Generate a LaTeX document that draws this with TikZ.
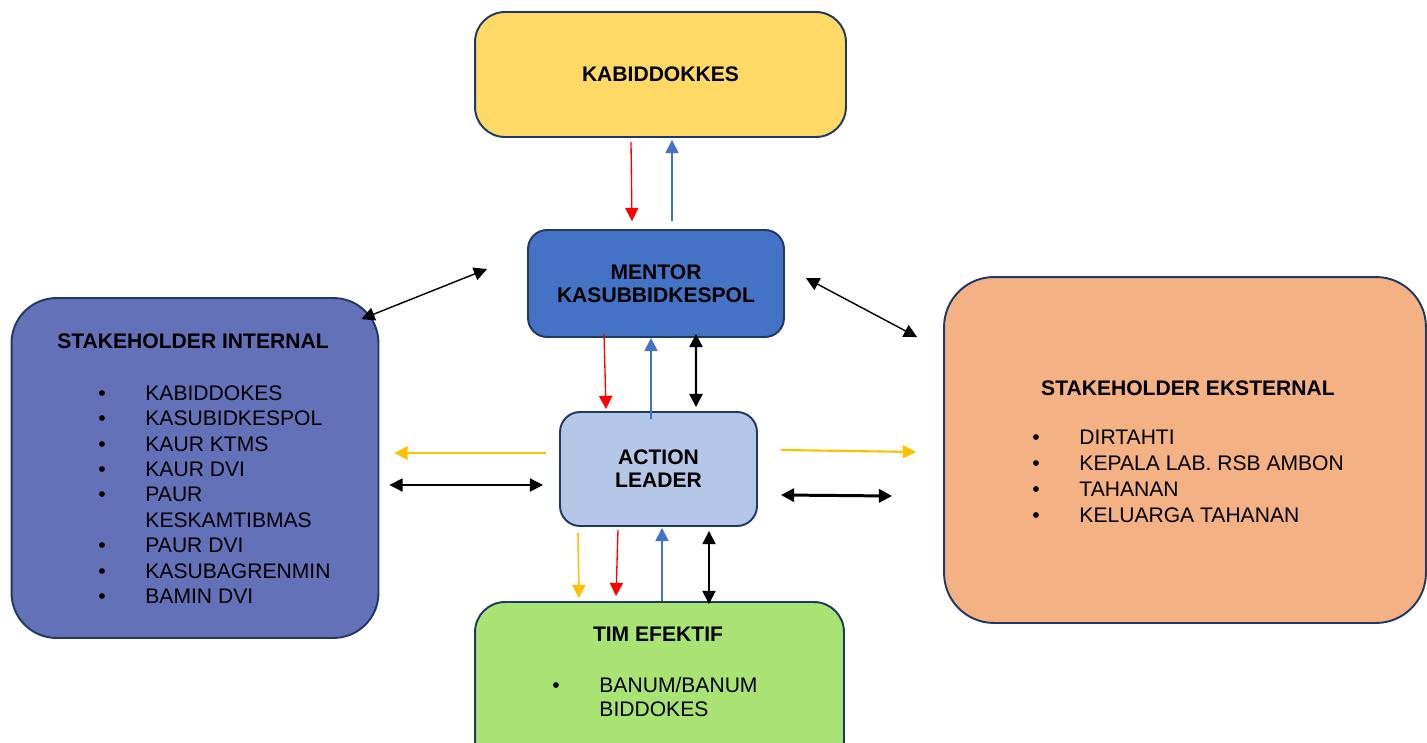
\documentclass[tikz,border=0pt]{standalone}
\usepackage{fontspec}
\setmainfont{Liberation Sans}
\definecolor{kab_yellow}{RGB}{255, 217, 102}
\definecolor{men_blue}{RGB}{68, 114, 196}
\definecolor{act_blue}{RGB}{180, 199, 231}
\definecolor{int_blue}{RGB}{99, 114, 184}
\definecolor{eks_orange}{RGB}{244, 177, 131}
\definecolor{tim_green}{RGB}{169, 227, 115}
\definecolor{edge_navy}{RGB}{31, 56, 100}
\definecolor{arr_yellow}{RGB}{255, 192, 0}
\usetikzlibrary{arrows.meta, positioning, calc}
\newcommand{\blt}{\makebox[26.8pt][l]{\textbullet}}
\newcommand{\nob}{\hspace*{26.8pt}}

\begin{document}
\begin{tikzpicture}[x=0.02cm, y=-0.02cm,
          font=\fontsize{12}{14.5}\selectfont,
          blk/.style={draw=edge_navy, line width=1.1pt, align=center,
                      font=\fontsize{12}{13.2}\selectfont\bfseries, inner sep=0pt},
          hdr/.style={anchor=base, inner sep=0pt, font=\fontsize{12}{14.5}\selectfont\bfseries},
          lst/.style={anchor=north west, inner sep=0pt, align=left},
          tip/.style={-{Triangle[length=7.5pt, width=7.5pt]}},
          dbl/.style={{Triangle[length=7.5pt, width=7.5pt]}-{Triangle[length=7.5pt, width=7.5pt]}},
          redarr/.style={tip, line width=0.75pt, red},
          bluarr/.style={tip, line width=0.9pt, men_blue},
          yelarr/.style={tip, line width=1.2pt, arr_yellow},
          blkarr/.style={dbl, line width=0.8pt, black}]
  \useasboundingbox (0, 0) rectangle (1427, 743);

  \node[blk, fill=kab_yellow, rounded corners=0.6cm,
        minimum width=7.42cm, minimum height=2.5cm] (kabid) at (660.5, 74.5) {KABIDDOKKES};
  \node[blk, fill=men_blue, rounded corners=0.38cm,
        minimum width=5.12cm, minimum height=2.14cm] (mentor) at (656, 283.5)
        {MENTOR\\KASUBBIDKESPOL};
  \node[blk, fill=act_blue, rounded corners=0.4cm,
        minimum width=3.94cm, minimum height=2.28cm] (action) at (658.5, 469)
        {ACTION\\LEADER};
  \node[blk, fill=int_blue, rounded corners=0.9cm,
        minimum width=7.34cm, minimum height=6.8cm] (internal) at (195, 468) {};
  \node[blk, fill=eks_orange, rounded corners=1.0cm,
        minimum width=9.64cm, minimum height=6.92cm] (eksternal) at (1185, 450) {};
  \node[blk, fill=tim_green, rounded corners=0.6cm,
        minimum width=7.38cm, minimum height=3.36cm] (tim) at (659.5, 686) {};

  \node[hdr] (inthdr) at (193, 348) {STAKEHOLDER INTERNAL};
  \node[lst] (intlst) at (98, 385) {\blt KABIDDOKES\\ \blt KASUBIDKESPOL\\ \blt KAUR KTMS\\
        \blt KAUR DVI\\ \blt PAUR\\ \nob KESKAMTIBMAS\\ \blt PAUR DVI\\
        \blt KASUBAGRENMIN\\ \blt BAMIN DVI};

  \node[hdr] (ekshdr) at (1188, 395) {STAKEHOLDER EKSTERNAL};
  \node[lst, font=\fontsize{12}{14.7}\selectfont] (ekslst) at (1032, 430)
        {\blt DIRTAHTI\\ \blt KEPALA LAB. RSB AMBON\\ \blt TAHANAN\\ \blt KELUARGA TAHANAN};

  \node[hdr] (timhdr) at (658, 641) {TIM EFEKTIF};
  \node[lst, font=\fontsize{12}{13.6}\selectfont] (timlst) at (552, 677)
        {\blt BANUM/BANUM\\ \nob BIDDOKES};

  \draw[redarr] ($(kabid.south)+(-29.5,4)$) -- ($(mentor.north)+(-24,-8)$);
  \draw[bluarr] ($(mentor.north)+(16,-8)$) -- ($(kabid.south)+(11.5,2)$);
  \draw[redarr] ($(mentor.south)+(-52,-4)$) -- ($(action.north)+(-52.5,-2)$);
  \draw[bluarr] ($(action.north)+(-7.5,8)$) -- ($(mentor.south)+(-5,0)$);
  \draw[blkarr, line width=1.3pt] ($(mentor.south)+(40,-4)$) -- ($(action.north)+(37.5,-4)$);
  \draw[blkarr] ($(internal.north east)+(-18,22)$) -- ($(mentor.west)+(-40,-14.5)$);
  \draw[blkarr] ($(mentor.east)+(21,-5.5)$) -- ($(eksternal.north west)+(-26,61)$);
  \draw[yelarr] ($(action.west)+(-13,-16)$) -- ($(internal.east)+(15,-15)$);
  \draw[blkarr] ($(internal.east)+(10,17)$) -- ($(action.west)+(-16,16)$);
  \draw[yelarr] ($(action.east)+(23,-19)$) -- ($(eksternal.west)+(-27,2)$);
  \draw[blkarr, line width=1.7pt] ($(action.east)+(23,26)$) -- ($(eksternal.west)+(-51,46)$);
  \draw[yelarr, line width=0.9pt] ($(action.south)+(-80.5,6)$) -- ($(tim.north)+(-80.5,-3)$);
  \draw[redarr] ($(action.south)+(-40.5,3)$) -- ($(tim.north)+(-43.5,-5)$);
  \draw[bluarr] ($(tim.north)+(2.5,0)$) -- ($(action.south)+(3.5,1)$);
  \draw[blkarr] ($(action.south)+(50.5,4)$) -- ($(tim.north)+(49.5,3)$);
\end{tikzpicture}
\end{document}
